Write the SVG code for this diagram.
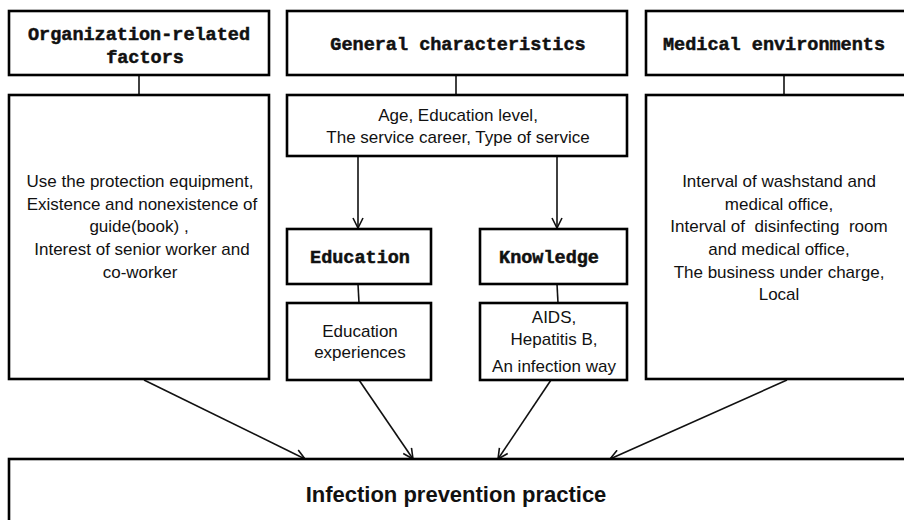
<svg xmlns="http://www.w3.org/2000/svg" width="904" height="520" viewBox="0 0 904 520">
  <style>
    .box { fill: #ffffff; stroke: #000000; stroke-width: 2.6; }
    .head { font-family: "Liberation Mono", "DejaVu Sans Mono", monospace; font-weight: bold; font-size: 18.5px; fill: #111111; stroke: #111111; stroke-width: 0.5; text-anchor: middle; }
    .body { font-family: "Liberation Sans", Arial, sans-serif; font-size: 17px; fill: #111111; text-anchor: middle; }
    .main { font-family: "Liberation Sans", Arial, sans-serif; font-weight: bold; font-size: 22px; fill: #111111; text-anchor: middle; }
    .link { stroke: #111111; stroke-width: 1.6; fill: none; }
    .arrow { stroke: #111111; stroke-width: 1.6; fill: none; marker-end: url(#vhead); }
  </style>
  <defs>
    <marker id="vhead" markerWidth="12" markerHeight="12" refX="11" refY="6" orient="auto" markerUnits="userSpaceOnUse">
      <path d="M1,1 L11,6 L1,11" fill="none" stroke="#111111" stroke-width="1.6"/>
    </marker>
  </defs>
  <rect width="904" height="520" fill="#ffffff"/>

  <!-- connectors -->
  <g id="connectors">
    <line class="link" x1="139" y1="75" x2="139" y2="95"/>
    <line class="link" x1="456" y1="75" x2="456" y2="95"/>
    <line class="link" x1="784" y1="75" x2="784" y2="95"/>
    <line class="arrow" x1="358" y1="156" x2="358" y2="228"/>
    <line class="arrow" x1="557" y1="156" x2="557" y2="228"/>
    <line class="link" x1="358" y1="284" x2="359" y2="303"/>
    <line class="link" x1="557" y1="284" x2="558" y2="303"/>
    <line class="arrow" x1="144" y1="380" x2="305" y2="459"/>
    <line class="arrow" x1="359" y1="380" x2="413" y2="459"/>
    <line class="arrow" x1="551" y1="380" x2="498" y2="459"/>
    <line class="arrow" x1="787" y1="380" x2="610" y2="459"/>
  </g>

  <!-- top row: factor headings -->
  <g id="org-factors">
    <rect class="box" x="9" y="11" width="260" height="64"/>
    <text class="head" x="139" y="40">Organization-related</text>
    <text class="head" x="145" y="63">factors</text>
  </g>
  <g id="general">
    <rect class="box" x="287" y="11" width="340" height="64"/>
    <text class="head" x="458" y="50">General characteristics</text>
  </g>
  <g id="medical">
    <rect class="box" x="646" y="11" width="280" height="64"/>
    <text class="head" x="774" y="50">Medical environments</text>
  </g>

  <!-- detail boxes -->
  <g id="org-items">
    <rect class="box" x="9" y="95" width="260" height="284"/>
    <text class="body" x="140" y="187">Use the protection equipment,</text>
    <text class="body" x="142" y="209.7">Existence and nonexistence of</text>
    <text class="body" x="139" y="232.3">guide(book) ,</text>
    <text class="body" x="142" y="255">Interest of senior worker and</text>
    <text class="body" x="140" y="277.7">co-worker</text>
  </g>
  <g id="general-items">
    <rect class="box" x="287" y="95" width="340" height="61"/>
    <text class="body" x="458" y="121">Age, Education level,</text>
    <text class="body" x="458" y="143">The service career, Type of service</text>
  </g>
  <g id="medical-items">
    <rect class="box" x="646" y="95" width="280" height="284"/>
    <text class="body" x="779" y="187">Interval of washstand and</text>
    <text class="body" x="779" y="209.7">medical office,</text>
    <text class="body" x="779" y="232.3" xml:space="preserve">Interval of  disinfecting  room</text>
    <text class="body" x="779" y="255">and medical office,</text>
    <text class="body" x="779" y="277.7">The business under charge,</text>
    <text class="body" x="779" y="300.3">Local</text>
  </g>

  <!-- middle: education and knowledge -->
  <g id="education">
    <rect class="box" x="287" y="229" width="144" height="55"/>
    <text class="head" x="360" y="263">Education</text>
  </g>
  <g id="education-items">
    <rect class="box" x="287" y="303" width="144" height="77"/>
    <text class="body" x="360" y="337">Education</text>
    <text class="body" x="360" y="358">experiences</text>
  </g>
  <g id="knowledge">
    <rect class="box" x="480" y="229" width="147" height="55"/>
    <text class="head" x="549" y="263">Knowledge</text>
  </g>
  <g id="knowledge-items">
    <rect class="box" x="480" y="303" width="147" height="77"/>
    <text class="body" x="554" y="323">AIDS,</text>
    <text class="body" x="554" y="345">Hepatitis B,</text>
    <text class="body" x="554" y="372">An infection way</text>
  </g>

  <!-- outcome -->
  <g id="practice">
    <rect class="box" x="9" y="459" width="920" height="100"/>
    <text class="main" x="456" y="502">Infection prevention practice</text>
  </g>
</svg>
